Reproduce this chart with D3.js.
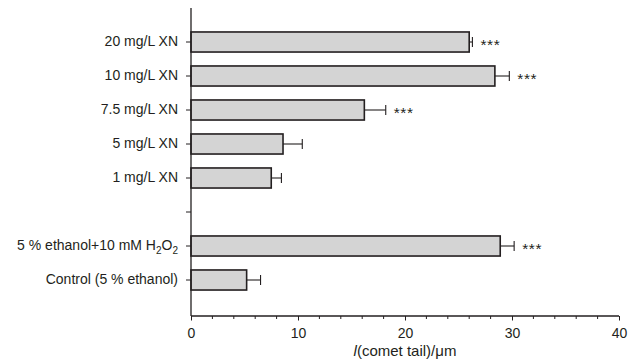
<!DOCTYPE html>
<html><head><meta charset="utf-8">
<script src="https://cdn.jsdelivr.net/npm/d3@7"></script>
<style>
body{margin:0;background:#fff;}
text{font-family:"Liberation Sans",Arial,sans-serif;fill:#231f20;}
</style></head>
<body><svg id="c" width="637" height="362"></svg>
<script>
const categories = ["20 mg/L XN","10 mg/L XN","7.5 mg/L XN","5 mg/L XN","1 mg/L XN","","5 % ethanol+10 mM H2O2","Control (5 % ethanol)"];
const values = [26.0, 28.4, 16.2, 8.6, 7.5, null, 28.9, 5.2];
const errors = [0.3, 1.35, 2.0, 1.8, 0.95, null, 1.3, 1.3];
const signif = ["***","***","***","","","","***",""];
const xTicks = [0,10,20,30,40];

const svg = d3.select("#c");
const x = d3.scaleLinear().domain([0,40]).range([191,619]);
const y = d3.scaleBand().domain(categories).range([25,297]).paddingInner(0.41).paddingOuter(0.205);
const ink = "#231f20";
const fs = 14;

// bars
const data = categories.map((c,i)=>({c, v:values[i], e:errors[i], s:signif[i]})).filter(d=>d.v!==null);
svg.selectAll("rect.bar").data(data).enter().append("rect")
  .attr("x", x(0)).attr("y", d=>y(d.c))
  .attr("width", d=>x(d.v)-x(0)).attr("height", y.bandwidth())
  .attr("fill","#d4d4d4").attr("stroke",ink).attr("stroke-width",1.6);

// error bars
svg.selectAll("line.err").data(data).enter().append("line")
  .attr("x1", d=>x(d.v)).attr("x2", d=>x(d.v+d.e))
  .attr("y1", d=>y(d.c)+y.bandwidth()/2).attr("y2", d=>y(d.c)+y.bandwidth()/2)
  .attr("stroke",ink).attr("stroke-width",1.1);
svg.selectAll("line.cap").data(data).enter().append("line")
  .attr("x1", d=>x(d.v+d.e)).attr("x2", d=>x(d.v+d.e))
  .attr("y1", d=>y(d.c)+y.bandwidth()/2-5).attr("y2", d=>y(d.c)+y.bandwidth()/2+5)
  .attr("stroke",ink).attr("stroke-width",1.1);

// significance
svg.selectAll("text.sig").data(data.filter(d=>d.s)).enter().append("text")
  .attr("x", d=>x(d.v+d.e)+8).attr("y", d=>y(d.c)+y.bandwidth()/2+8)
  .attr("font-size",15.5).attr("letter-spacing",0.6).attr("fill","#444").text(d=>d.s);

// y axis
const ya = svg.append("g").attr("transform",`translate(${x(0)},0)`)
  .call(d3.axisLeft(y).tickSize(5).tickPadding(8));
ya.select(".domain").remove();
ya.selectAll(".tick line").attr("stroke",ink).attr("stroke-width",1);
ya.selectAll(".tick text").attr("font-size",fs).attr("fill",ink).style("font-family","'Liberation Sans',Arial,sans-serif")
  .each(function(d){
    if(d.indexOf("H2O2")>=0){
      const t=d3.select(this); t.text(null);
      t.append("tspan").text("5 % ethanol+10 mM H");
      t.append("tspan").text("2").attr("font-size",10).attr("dy",3.5);
      t.append("tspan").text("O").attr("dy",-3.5);
      t.append("tspan").text("2").attr("font-size",10).attr("dy",3.5);
    }
  });
svg.append("line").attr("x1",x(0)).attr("x2",x(0)).attr("y1",8).attr("y2",316)
  .attr("stroke",ink).attr("stroke-width",1.3);

// x axis
const xa = svg.append("g").attr("transform","translate(0,316)")
  .call(d3.axisBottom(x).tickValues(xTicks).tickSize(4.5).tickPadding(8));
xa.select(".domain").attr("stroke",ink).attr("stroke-width",1.3).attr("d",`M${x(0)},0H${x(40)}`);
xa.selectAll(".tick line").attr("stroke",ink);
xa.selectAll(".tick text").attr("font-size",fs).attr("fill",ink).style("font-family","'Liberation Sans',Arial,sans-serif");
const minor = d3.range(0,41,2).filter(v=>v%10!==0);
svg.append("g").selectAll("line").data(minor).enter().append("line")
  .attr("x1",d=>x(d)).attr("x2",d=>x(d)).attr("y1",316).attr("y2",319)
  .attr("stroke",ink).attr("stroke-width",1);

// x label
const xl = svg.append("text").attr("x",(x(0)+x(40))/2).attr("y",356).attr("text-anchor","middle").attr("font-size",15);
xl.append("tspan").text("l").attr("font-style","italic");
xl.append("tspan").text("(comet tail)/μm");
</script></body></html>
